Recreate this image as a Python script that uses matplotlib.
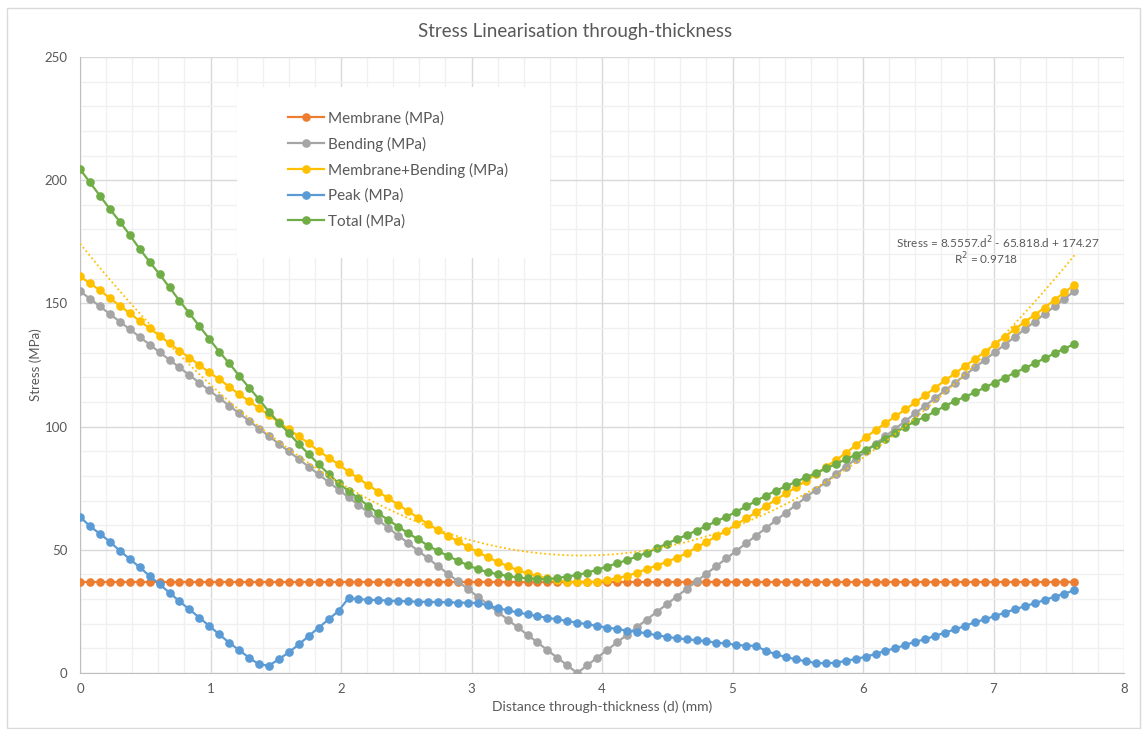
import numpy as np
import matplotlib
matplotlib.use("Agg")
import matplotlib.pyplot as plt
from matplotlib.patches import Rectangle
from matplotlib.ticker import MultipleLocator

plt.rcParams['font.family'] = ['Lato', 'DejaVu Sans']

# through-thickness stations (101 equally spaced points over 7.62 mm)
d = np.linspace(0, 7.62, 101)

membrane = [37.0] * 101

bending = [155.0, 151.9, 148.8, 145.7, 142.6, 139.5, 136.4, 133.3, 130.2, 127.1,
           124.0, 120.9, 117.8, 114.7, 111.6, 108.5, 105.4, 102.3, 99.2, 96.1,
           93.0, 89.9, 86.8, 83.7, 80.6, 77.5, 74.4, 71.3, 68.2, 65.1,
           62.0, 58.9, 55.8, 52.7, 49.6, 46.5, 43.4, 40.3, 37.2, 34.1,
           31.0, 27.9, 24.8, 21.7, 18.6, 15.5, 12.4, 9.3, 6.2, 3.1,
           0.0,
           3.1, 6.2, 9.3, 12.4, 15.5, 18.6, 21.7, 24.8, 27.9, 31.0,
           34.1, 37.2, 40.3, 43.4, 46.5, 49.6, 52.7, 55.8, 58.9, 62.0,
           65.1, 68.2, 71.3, 74.4, 77.5, 80.6, 83.7, 86.8, 89.9, 93.0,
           96.1, 99.2, 102.3, 105.4, 108.5, 111.6, 114.7, 117.8, 120.9, 124.0,
           127.1, 130.2, 133.3, 136.4, 139.5, 142.6, 145.7, 148.8, 151.9, 155.0]

memb_bend = [161.0, 158.1, 155.4, 152.1, 149.1, 146.0, 142.9, 139.9, 136.9, 133.8,
             130.8, 128.0, 125.0, 122.0, 119.2, 116.2, 113.1, 110.4, 107.4, 104.7,
             101.7, 98.9, 96.0, 93.2, 90.1, 87.4, 84.7, 81.7, 79.0, 76.2,
             73.6, 70.9, 68.3, 65.7, 63.0, 60.5, 58.0, 55.7, 53.4, 51.2,
             49.1, 47.0, 45.1, 43.4, 41.8, 40.4, 39.3, 38.4, 37.7, 37.1,
             36.8,
             36.8, 37.1, 37.7, 38.4, 39.4, 40.7, 42.2, 43.6, 45.1, 46.8,
             48.6, 51.0, 53.2, 55.5, 57.8, 60.3, 62.8, 65.2, 67.8, 70.4,
             72.9, 75.4, 78.0, 80.7, 83.6, 86.4, 89.2, 92.4, 95.6, 98.6,
             101.4, 104.2, 107.0, 109.8, 112.8, 115.8, 118.8, 121.6, 124.6, 127.4,
             130.4, 133.5, 136.5, 139.5, 142.5, 145.3, 148.3, 151.4, 154.5, 157.5]

peak = [63.4, 59.6, 56.5, 53.3, 49.6, 46.3, 42.9, 39.4, 36.0, 32.6,
        29.1, 25.8, 22.5, 19.1, 15.7, 12.3, 9.3, 6.2, 3.5, 3.0,
        5.6, 8.4, 11.6, 15.0, 18.4, 21.8, 25.2, 30.4, 30.0, 29.7,
        29.6, 29.4, 29.2, 29.1, 28.9, 28.9, 28.8, 28.7, 28.6, 28.5,
        28.4, 27.5, 26.4, 25.4, 24.6, 23.8, 23.1, 22.4, 21.8, 21.1,
        20.4,
        19.8, 19.1, 18.4, 17.9, 17.2, 16.7, 16.1, 15.3, 14.7, 14.1,
        13.7, 13.3, 12.9, 12.3, 12.0, 11.4, 11.1, 11.0, 8.9, 7.6,
        6.4, 5.6, 4.7, 4.1, 3.9, 4.2, 4.9, 5.7, 6.6, 7.7,
        9.1, 10.0, 11.4, 12.7, 13.7, 15.1, 16.4, 17.7, 19.1, 20.6,
        21.8, 23.1, 24.5, 25.8, 27.1, 28.3, 29.6, 31.0, 32.2, 33.6]

total = [204.5, 199.1, 193.7, 188.3, 183.2, 177.8, 172.1, 166.9, 161.8, 156.5,
         151.1, 146.0, 140.8, 135.6, 130.4, 125.7, 120.7, 115.8, 111.1, 106.0,
         101.6, 97.3, 92.9, 88.8, 84.7, 80.8, 77.0, 73.9, 70.9, 67.8,
         64.8, 62.1, 59.4, 56.7, 54.3, 51.7, 49.5, 47.5, 45.6, 43.7,
         42.2, 40.9, 40.1, 39.4, 38.8, 38.4, 38.1, 38.1, 38.6, 39.1,
         39.8,
         40.7, 41.9, 43.2, 44.5, 45.8, 47.3, 48.8, 50.6, 52.5, 54.3,
         56.0, 57.8, 59.7, 61.6, 63.4, 65.5, 67.6, 69.9, 72.0, 74.0,
         75.8, 77.6, 79.4, 81.1, 83.0, 84.8, 86.7, 88.6, 90.6, 92.6,
         95.0, 97.6, 100.0, 102.2, 104.0, 106.2, 108.4, 110.4, 112.1, 113.9,
         115.9, 117.9, 119.8, 121.9, 123.7, 125.7, 127.7, 129.7, 131.7, 133.5]

# polynomial trendline of Membrane+Bending, as printed on the chart
trend_coef = [8.5557, -65.818, 174.27]
trend_r2 = 0.9718

series = [
    ("Membrane (MPa)", membrane, "#ED7D31"),
    ("Bending (MPa)", bending, "#A5A5A5"),
    ("Membrane+Bending (MPa)", memb_bend, "#FFC000"),
    ("Peak (MPa)", peak, "#5B9BD5"),
    ("Total (MPa)", total, "#70AD47"),
]

text_col = "#595959"

fig = plt.figure(figsize=(11.43, 7.29), dpi=100)
ax = fig.add_axes([0.07, 0.0768, 0.9134, 0.845])

for k, (name, vals, col) in enumerate(series):
    ax.plot(d, vals, color=col, lw=1.6, marker="o", ms=5.2, label=name, zorder=3 + k)

dd = np.linspace(0, 7.62, 200)
ax.plot(dd, np.polyval(trend_coef, dd), color="#FFC000", lw=1.3, ls=(0, (1, 1.5)), zorder=9)

ax.set_xlim(0, 8)
ax.set_ylim(0, 250)
ax.xaxis.set_major_locator(MultipleLocator(1))
ax.xaxis.set_minor_locator(MultipleLocator(0.2))
ax.yaxis.set_major_locator(MultipleLocator(50))
ax.yaxis.set_minor_locator(MultipleLocator(10))
ax.grid(which="major", color="#d9d9d9", lw=1.0)
ax.grid(which="minor", color="#f0f0f0", lw=1.0)
ax.set_axisbelow(True)
ax.tick_params(which="both", length=0, labelsize=9.5, colors=text_col)
ax.tick_params(axis="y", pad=9)
ax.tick_params(axis="x", pad=7)
for s in ["top", "right"]:
    ax.spines[s].set_visible(False)
for s in ["left", "bottom"]:
    ax.spines[s].set_color("#bfbfbf")

fig.text(575 / 1143, 1 - 31 / 729, "Stress Linearisation through-thickness",
         fontsize=13.5, color=text_col, ha="center", va="center")
ax.set_xlabel("Distance through-thickness (d) (mm)", fontsize=10, color=text_col, labelpad=4)
ax.set_ylabel("Stress (MPa)", fontsize=9.5, color=text_col, labelpad=2)

# white box behind the legend hides the gridlines
ax.add_patch(Rectangle((0.150, 0.674), 0.300, 0.277, transform=ax.transAxes,
                       facecolor="white", edgecolor="none", zorder=1))
leg = ax.legend(loc="upper left", bbox_to_anchor=(0.193, 0.922), frameon=False,
                fontsize=11, numpoints=1, handlelength=2.35, handletextpad=0.28,
                labelspacing=0.72, borderaxespad=0)
for t in leg.get_texts():
    t.set_color(text_col)

ax.text(7.03, 174.5, "Stress = 8.5557.d$^{2}$ - 65.818.d + 174.27", fontsize=8.5,
        color=text_col, ha="center", va="center", zorder=10)
ax.text(6.94, 168, "R$^{2}$ = %.4f" % trend_r2, fontsize=8.5, color=text_col,
        ha="center", va="center", zorder=10)

fig.patches.append(Rectangle((7 / 1143, 0.002), 1133 / 1143, 1 - 8 / 729 - 0.002,
                             transform=fig.transFigure, facecolor="none",
                             edgecolor="#d9d9d9", lw=1.0))

fig.savefig("out.png", dpi=100)
